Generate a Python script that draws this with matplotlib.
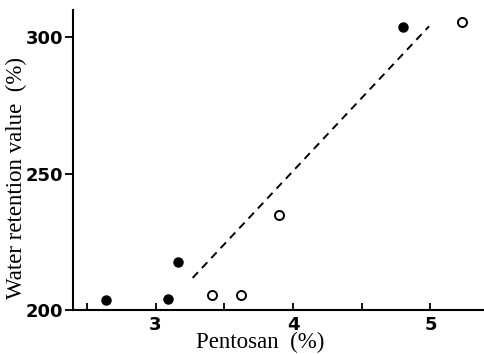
import matplotlib
matplotlib.use('Agg')
import matplotlib.pyplot as plt

# filled circles
x_filled = [2.64, 3.09, 3.16, 4.80]
y_filled = [203.7, 204.0, 217.6, 303.7]
# open circles
x_open = [3.41, 3.62, 3.90, 5.23]
y_open = [205.5, 205.5, 234.9, 305.5]
# dashed regression line
x_line = [3.27, 4.99]
y_line = [211.8, 304.0]

xticks = [3, 4, 5]
yticks = [200, 250, 300]

fig = plt.figure(figsize=(4.84, 3.54), dpi=100)
ax = fig.add_axes([0.151, 0.124, 0.849, 0.848])

ax.plot(x_line, y_line, '--', color='black', lw=1.4, dashes=(4, 3))
ax.plot(x_filled, y_filled, 'o', color='black', ms=6.5)
ax.plot(x_open, y_open, 'o', mfc='white', mec='black', mew=1.4, ms=6.5)

ax.set_xlim(2.4, 5.39)
ax.set_ylim(200, 310)
for s in ['top', 'right']:
    ax.spines[s].set_visible(False)
for s in ['left', 'bottom']:
    ax.spines[s].set_linewidth(1.5)

tick_font = dict(family=['Liberation Sans Narrow', 'DejaVu Sans'], weight='bold', size=13)
ax.set_xticks(xticks)
ax.set_xticks([2.5, 3.5, 4.5], minor=True)
ax.set_yticks(yticks)
ax.set_xticklabels([str(t) for t in xticks], fontdict=tick_font)
ax.set_yticklabels([str(t) for t in yticks], fontdict=tick_font)
ax.tick_params(axis='x', which='both', direction='in', length=5, width=1.3, pad=4)
ax.tick_params(axis='y', direction='out', length=6, width=1.3, pad=1)

label_font = dict(family='Liberation Serif', size=16.5)
ax.set_xlabel('Pentosan  (%)', fontdict=label_font)
ax.set_ylabel('Water retention value  (%)', fontdict=label_font)
ax.xaxis.set_label_coords(0.455, -0.074)
ax.yaxis.set_label_coords(-0.112, 0.44)

fig.savefig('out.png', dpi=100, facecolor='white')
